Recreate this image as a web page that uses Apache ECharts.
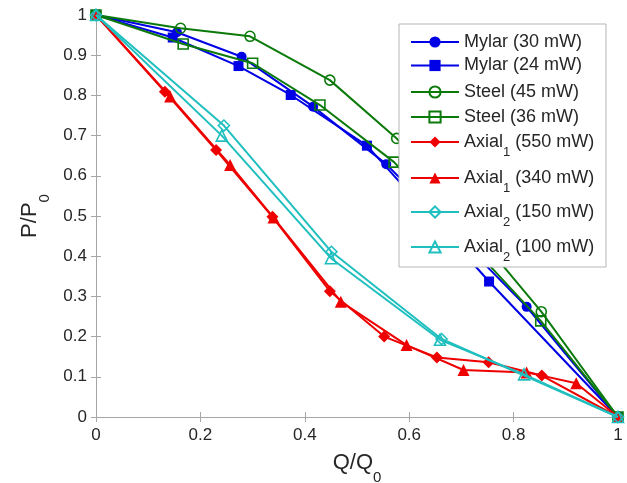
<!DOCTYPE html>
<html>
<head>
<meta charset="utf-8">
<script src="https://cdn.jsdelivr.net/npm/echarts@6/dist/echarts.min.js"></script>
<style>
html,body{margin:0;padding:0;background:#fff;}
#chart{width:627px;height:483px;}
</style>
</head>
<body>
<div id="chart"></div>
<script>
// ---- data ----
var xTicks = [0, 0.2, 0.4, 0.6, 0.8, 1];
var yTicks = [0, 0.1, 0.2, 0.3, 0.4, 0.5, 0.6, 0.7, 0.8, 0.9, 1];

var mylar30X = [0, 0.155, 0.279, 0.416, 0.556, 0.825, 1];
var mylar30Y = [1, 0.957, 0.896, 0.772, 0.629, 0.274, 0];

var mylar24X = [0, 0.147, 0.273, 0.373, 0.519, 0.753, 1];
var mylar24Y = [1, 0.944, 0.873, 0.801, 0.675, 0.337, 0];

var steel45X = [0, 0.162, 0.295, 0.448, 0.576, 0.853, 1];
var steel45Y = [1, 0.967, 0.947, 0.838, 0.693, 0.262, 0];

var steel36X = [0, 0.167, 0.300, 0.429, 0.571, 0.852, 1];
var steel36Y = [1, 0.928, 0.880, 0.776, 0.634, 0.239, 0];

var axial1_550X = [0, 0.132, 0.230, 0.338, 0.448, 0.552, 0.653, 0.752, 0.854, 1];
var axial1_550Y = [1, 0.809, 0.664, 0.498, 0.313, 0.200, 0.148, 0.136, 0.103, 0];

var axial1_340X = [0, 0.142, 0.257, 0.340, 0.469, 0.595, 0.704, 0.825, 0.920, 1];
var axial1_340Y = [1, 0.797, 0.627, 0.496, 0.287, 0.179, 0.117, 0.111, 0.084, 0];

var axial2_150X = [0, 0.245, 0.451, 0.662, 1];
var axial2_150Y = [1, 0.725, 0.411, 0.194, 0];

var axial2_100X = [0, 0.241, 0.450, 0.659, 0.820, 1];
var axial2_100Y = [1, 0.700, 0.395, 0.192, 0.106, 0];

var seriesNames = ['Mylar (30 mW)', 'Mylar (24 mW)', 'Steel (45 mW)', 'Steel (36 mW)',
  'Axial1 (550 mW)', 'Axial1 (340 mW)', 'Axial2 (150 mW)', 'Axial2 (100 mW)'];

// ---- styling ----
var FONT = '"Liberation Sans", Arial, Helvetica, sans-serif';
var BLUE = '#0000e6', GREEN = '#0b7a0b', RED = '#ee0000', CYAN = '#20bfbf';

function zip(xs, ys) { return xs.map(function (x, i) { return [x, ys[i]]; }); }

var specs = [
  {x: mylar30X, y: mylar30Y, c: BLUE, sym: 'circle', size: 10, open: false},
  {x: mylar24X, y: mylar24Y, c: BLUE, sym: 'rect', size: 10, open: false},
  {x: steel45X, y: steel45Y, c: GREEN, sym: 'circle', size: 10, open: true},
  {x: steel36X, y: steel36Y, c: GREEN, sym: 'rect', size: 10, open: true},
  {x: axial1_550X, y: axial1_550Y, c: RED, sym: 'diamond', size: 12, open: false},
  {x: axial1_340X, y: axial1_340Y, c: RED, sym: 'triangle', size: 12, open: false},
  {x: axial2_150X, y: axial2_150Y, c: CYAN, sym: 'diamond', size: 11, open: true},
  {x: axial2_100X, y: axial2_100Y, c: CYAN, sym: 'triangle', size: 11, open: true}
];

var series = specs.map(function (s, i) {
  return {
    name: seriesNames[i],
    type: 'line',
    xAxisIndex: 0, yAxisIndex: 0,
    data: zip(s.x, s.y),
    symbol: s.sym,
    symbolSize: s.size,
    showSymbol: true,
    clip: false,
    animation: false,
    lineStyle: {color: s.c, width: 2},
    itemStyle: s.open ? {color: 'rgba(255,255,255,0)', borderColor: s.c, borderWidth: 1.6}
                      : {color: s.c, borderColor: s.c, borderWidth: 0},
    emphasis: {disabled: true},
    z: 2 + i * 0.01
  };
});

// legend rows (centre y of each row)
var legendRowY = [40.5, 64, 90.5, 115.5, 141, 177, 211, 246];
var legendRich = {
  m: {fontSize: 18, fontFamily: FONT, color: '#262626', lineHeight: 20},
  s: {fontSize: 13, fontFamily: FONT, color: '#262626', lineHeight: 33, verticalAlign: 'bottom'}
};
function legendFmt(name) {
  var m = name.match(/^Axial(\d) (.*)$/);
  if (m) return '{m|Axial}{s|' + m[1] + '}{m| ' + m[2] + '}';
  return '{m|' + name + '}';
}
var legends = seriesNames.map(function (n, i) {
  var hasSub = /^Axial/.test(n);
  return {
    data: [n],
    orient: 'vertical',
    left: 410,
    top: legendRowY[i] - (hasSub ? 8 : 7.5),
    padding: 0,
    itemWidth: 48,
    itemHeight: 14,
    itemGap: 0,
    selectedMode: false,
    z: 5,
    formatter: legendFmt,
    textStyle: {rich: legendRich, fontFamily: FONT, fontSize: 18, color: '#262626'}
  };
});

var axisNameRich = {
  m: {fontSize: 22, fontFamily: FONT, color: '#262626'},
  s: {fontSize: 15, fontFamily: FONT, color: '#262626', lineHeight: 44, verticalAlign: 'bottom'}
};

var axisLineStyle = {color: '#a6a6a6', width: 1};
var option = {
  backgroundColor: '#fff',
  animation: false,
  grid: {left: 96, right: 9, top: 15, bottom: 66, containLabel: false, outerBoundsMode: 'none'},
  graphic: [{
    type: 'rect', z: 4, zlevel: 0,
    shape: {x: 399, y: 24, width: 207, height: 243},
    style: {fill: '#fff', stroke: '#b5b5b5', lineWidth: 1}
  }],
  legend: legends,
  xAxis: [{
    type: 'value', min: xTicks[0], max: xTicks[xTicks.length - 1], interval: 0.2,
    position: 'bottom',
    name: '{m|Q/Q}{s|0}', nameLocation: 'middle', nameGap: 24,
    nameTextStyle: {rich: axisNameRich},
    axisLine: {show: true, lineStyle: axisLineStyle},
    axisTick: {show: true, inside: true, length: 5, lineStyle: axisLineStyle},
    axisLabel: {fontSize: 17, fontFamily: FONT, color: '#262626', margin: 10},
    splitLine: {show: false}
  }, {
    type: 'value', min: xTicks[0], max: xTicks[xTicks.length - 1], interval: 0.2,
    position: 'top',
    axisLine: {show: true, lineStyle: axisLineStyle},
    axisTick: {show: true, inside: true, length: 5, lineStyle: axisLineStyle},
    axisLabel: {show: false},
    splitLine: {show: false}
  }],
  yAxis: [{
    type: 'value', min: yTicks[0], max: yTicks[yTicks.length - 1], interval: 0.1,
    position: 'left',
    name: '{m|P/P}{s|0}', nameLocation: 'middle', nameGap: 44,
    nameTextStyle: {rich: axisNameRich},
    axisLine: {show: true, lineStyle: axisLineStyle},
    axisTick: {show: true, inside: true, length: 5, lineStyle: axisLineStyle},
    axisLabel: {fontSize: 17, fontFamily: FONT, color: '#262626', margin: 9},
    splitLine: {show: false}
  }, {
    type: 'value', min: yTicks[0], max: yTicks[yTicks.length - 1], interval: 0.1,
    position: 'right',
    axisLine: {show: true, lineStyle: axisLineStyle},
    axisTick: {show: true, inside: true, length: 5, lineStyle: axisLineStyle},
    axisLabel: {show: false},
    splitLine: {show: false}
  }],
  series: series
};

var chart = echarts.init(document.getElementById('chart'), null, {renderer: 'canvas'});
chart.setOption(option);
</script>
</body>
</html>
